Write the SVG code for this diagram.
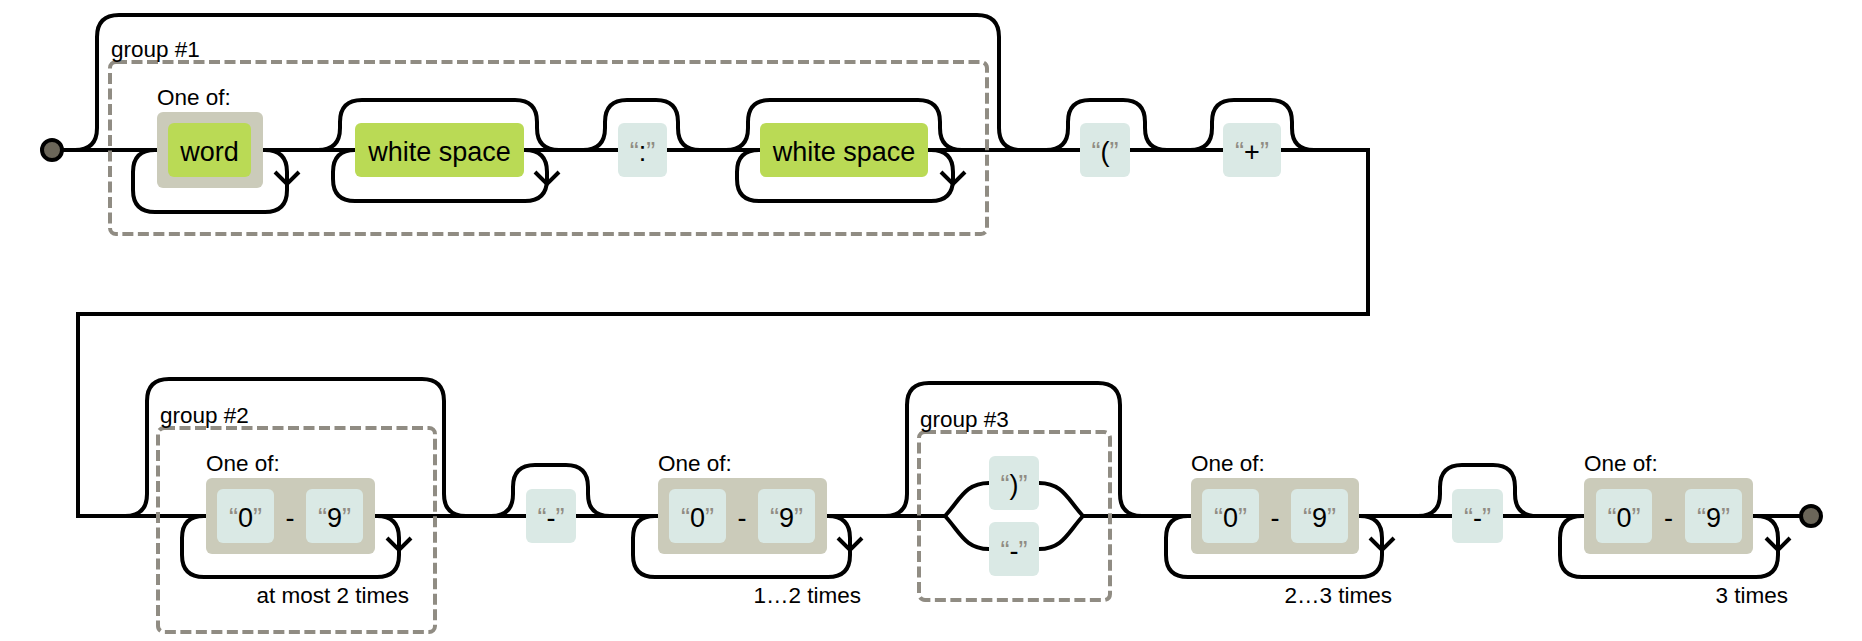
<svg xmlns="http://www.w3.org/2000/svg" width="1862" height="641" viewBox="0 0 1862 641">
<style>
.bg{fill:#ffffff}
.conn path{fill:none;stroke:#000;stroke-width:4}
.grp{fill:none;stroke:#908c83;stroke-width:4;stroke-dasharray:11 4.5}
.esc{fill:#bada55}
.lit{fill:#dae9e5}
.cs{fill:#cbcbba}
.t{font-family:"Liberation Sans",Arial,sans-serif;font-size:27px;fill:#000;text-anchor:middle}
.q{fill:#908c83}
.lb{font-family:"Liberation Sans",Arial,sans-serif;font-size:22.5px;fill:#000}
.end{text-anchor:end}
.pt{fill:#6b6659;stroke:#000;stroke-width:4}
</style>
<rect class="bg" x="0" y="0" width="1862" height="641"/>

<g id="connectors" class="conn">
  <path d="M62,150 H1330"/>
  <path d="M1330,150 H1368 V314 H78 V516 H945"/>
  <path d="M1083,516 H1800"/>
  <!-- group #1 bypass -->
  <path d="M75,150 q22,0 22,-22 V37 q0,-22 22,-22 H977 q22,0 22,22 V128 q0,22 22,22"/>
  <!-- word loop -->
  <path d="M263,150 H265 q22,0 22,22 V190 q0,22 -22,22 H155 q-22,0 -22,-22 V172 q0,-22 22,-22 H157"/>
  <path d="M275,172 L287,184 L299,172"/>
  <!-- white space 1 skip + loop -->
  <path d="M318,150 q22,0 22,-22 V122 q0,-22 22,-22 H515 q22,0 22,22 V128 q0,22 22,22"/>
  <path d="M524,150 H525 q22,0 22,22 V179 q0,22 -22,22 H355 q-22,0 -22,-22 V172 q0,-22 22,-22"/>
  <path d="M535,172 L547,184 L559,172"/>
  <!-- ":" skip -->
  <path d="M583,150 q22,0 22,-22 V122 q0,-22 22,-22 H656 q22,0 22,22 V128 q0,22 22,22"/>
  <!-- white space 2 skip + loop -->
  <path d="M726,150 q22,0 22,-22 V122 q0,-22 22,-22 H918 q22,0 22,22 V128 q0,22 22,22"/>
  <path d="M928,150 H931 q22,0 22,22 V179 q0,22 -22,22 H759 q-22,0 -22,-22 V172 q0,-22 22,-22 H760"/>
  <path d="M941,172 L953,184 L965,172"/>
  <!-- "(" skip -->
  <path d="M1046,150 q22,0 22,-22 V122 q0,-22 22,-22 H1123 q22,0 22,22 V128 q0,22 22,22"/>
  <!-- "+" skip -->
  <path d="M1190,150 q22,0 22,-22 V122 q0,-22 22,-22 H1270 q22,0 22,22 V128 q0,22 22,22"/>

  <!-- group #2 bypass -->
  <path d="M125,516 q22,0 22,-22 V401 q0,-22 22,-22 H422 q22,0 22,22 V494 q0,22 22,22"/>
  <path d="M375,516 H377 q22,0 22,22 V555 q0,22 -22,22 H204 q-22,0 -22,-22 V538 q0,-22 22,-22 H206"/>
  <path d="M387,538 L399,550 L411,538"/>
  <!-- "-" skip 1 -->
  <path d="M491,516 q22,0 22,-22 V487 q0,-22 22,-22 H566 q22,0 22,22 V494 q0,22 22,22"/>
  <!-- loop 1..2 -->
  <path d="M827,516 H828 q22,0 22,22 V555 q0,22 -22,22 H655 q-22,0 -22,-22 V538 q0,-22 22,-22 H658"/>
  <path d="M838,538 L850,550 L862,538"/>
  <!-- group #3 bypass -->
  <path d="M885,516 q22,0 22,-22 V405 q0,-22 22,-22 H1098 q22,0 22,22 V494 q0,22 22,22"/>
  <!-- choice -->
  <path d="M935,516 H945 C960,500 965,483 989,483"/>
  <path d="M945,516 C960,532 965,549 989,549"/>
  <path d="M1039,483 C1063,483 1068,500 1083,516"/>
  <path d="M1039,549 C1063,549 1068,532 1083,516"/>
  <!-- loop 2..3 -->
  <path d="M1359,516 H1360 q22,0 22,22 V555 q0,22 -22,22 H1188 q-22,0 -22,-22 V538 q0,-22 22,-22 H1191"/>
  <path d="M1370,538 L1382,550 L1394,538"/>
  <!-- "-" skip 2 -->
  <path d="M1418,516 q22,0 22,-22 V487 q0,-22 22,-22 H1493 q22,0 22,22 V494 q0,22 22,22"/>
  <!-- loop 3 times -->
  <path d="M1753,516 H1756 q22,0 22,22 V555 q0,22 -22,22 H1582 q-22,0 -22,-22 V538 q0,-22 22,-22 H1584"/>
  <path d="M1766,538 L1778,550 L1790,538"/>
</g>

<g id="start"><circle class="pt" cx="52" cy="150" r="10"/></g>
<g id="end"><circle class="pt" cx="1811" cy="516" r="10"/></g>

<g id="group1">
  <rect class="grp" x="110" y="62" width="877" height="172" rx="6"/>
  <text class="lb" x="111" y="57">group #1</text>
</g>
<g id="word">
  <text class="lb" x="157" y="105">One of:</text>
  <rect class="cs" x="157" y="112" width="106" height="76" rx="6"/>
  <rect class="esc" x="168" y="123" width="83" height="54" rx="6"/>
  <text class="t" x="209.5" y="161">word</text>
</g>
<g id="ws1">
  <rect class="esc" x="355" y="123" width="169" height="54" rx="6"/>
  <text class="t" x="439.5" y="161">white space</text>
</g>
<g id="colon">
  <rect class="lit" x="618" y="123" width="49" height="54" rx="6"/>
  <text class="t" x="642.5" y="161"><tspan class="q">“</tspan>:<tspan class="q">”</tspan></text>
</g>
<g id="ws2">
  <rect class="esc" x="760" y="123" width="168" height="54" rx="6"/>
  <text class="t" x="844" y="161">white space</text>
</g>
<g id="lparen">
  <rect class="lit" x="1080" y="123" width="50" height="54" rx="6"/>
  <text class="t" x="1105" y="161"><tspan class="q">“</tspan>(<tspan class="q">”</tspan></text>
</g>
<g id="plus">
  <rect class="lit" x="1223" y="123" width="58" height="54" rx="6"/>
  <text class="t" x="1252" y="161"><tspan class="q">“</tspan>+<tspan class="q">”</tspan></text>
</g>

<g id="group2">
  <rect class="grp" x="158" y="428" width="277" height="204" rx="6"/>
  <text class="lb" x="160" y="423">group #2</text>
</g>
<g id="digits1">
  <text class="lb" x="206" y="471">One of:</text>
  <rect class="cs" x="206" y="478" width="169" height="76" rx="6"/>
  <rect class="lit" x="217" y="489" width="57" height="54" rx="6"/>
  <text class="t" x="245.5" y="527"><tspan class="q">“</tspan>0<tspan class="q">”</tspan></text>
  <text class="t" x="290" y="527">-</text>
  <rect class="lit" x="306" y="489" width="57" height="54" rx="6"/>
  <text class="t" x="334.5" y="527"><tspan class="q">“</tspan>9<tspan class="q">”</tspan></text>
  <text class="lb end" x="409" y="603">at most 2 times</text>
</g>
<g id="dash1">
  <rect class="lit" x="526" y="489" width="50" height="54" rx="6"/>
  <text class="t" x="551" y="527"><tspan class="q">“</tspan>-<tspan class="q">”</tspan></text>
</g>
<g id="digits2">
  <text class="lb" x="658" y="471">One of:</text>
  <rect class="cs" x="658" y="478" width="169" height="76" rx="6"/>
  <rect class="lit" x="669" y="489" width="57" height="54" rx="6"/>
  <text class="t" x="697.5" y="527"><tspan class="q">“</tspan>0<tspan class="q">”</tspan></text>
  <text class="t" x="742" y="527">-</text>
  <rect class="lit" x="758" y="489" width="57" height="54" rx="6"/>
  <text class="t" x="786.5" y="527"><tspan class="q">“</tspan>9<tspan class="q">”</tspan></text>
  <text class="lb end" x="861" y="603">1…2 times</text>
</g>
<g id="group3">
  <rect class="grp" x="919" y="432" width="191" height="168" rx="6"/>
  <text class="lb" x="920" y="427">group #3</text>
</g>
<g id="rparen">
  <rect class="lit" x="989" y="456" width="50" height="54" rx="6"/>
  <text class="t" x="1014" y="494"><tspan class="q">“</tspan>)<tspan class="q">”</tspan></text>
</g>
<g id="dash2">
  <rect class="lit" x="989" y="522" width="50" height="54" rx="6"/>
  <text class="t" x="1014" y="560"><tspan class="q">“</tspan>-<tspan class="q">”</tspan></text>
</g>
<g id="digits3">
  <text class="lb" x="1191" y="471">One of:</text>
  <rect class="cs" x="1191" y="478" width="168" height="76" rx="6"/>
  <rect class="lit" x="1202" y="489" width="57" height="54" rx="6"/>
  <text class="t" x="1230.5" y="527"><tspan class="q">“</tspan>0<tspan class="q">”</tspan></text>
  <text class="t" x="1275" y="527">-</text>
  <rect class="lit" x="1291" y="489" width="57" height="54" rx="6"/>
  <text class="t" x="1319.5" y="527"><tspan class="q">“</tspan>9<tspan class="q">”</tspan></text>
  <text class="lb end" x="1392" y="603">2…3 times</text>
</g>
<g id="dash3">
  <rect class="lit" x="1452" y="489" width="51" height="54" rx="6"/>
  <text class="t" x="1477.5" y="527"><tspan class="q">“</tspan>-<tspan class="q">”</tspan></text>
</g>
<g id="digits4">
  <text class="lb" x="1584" y="471">One of:</text>
  <rect class="cs" x="1584" y="478" width="169" height="76" rx="6"/>
  <rect class="lit" x="1596" y="489" width="56" height="54" rx="6"/>
  <text class="t" x="1624" y="527"><tspan class="q">“</tspan>0<tspan class="q">”</tspan></text>
  <text class="t" x="1668.5" y="527">-</text>
  <rect class="lit" x="1685" y="489" width="57" height="54" rx="6"/>
  <text class="t" x="1713.5" y="527"><tspan class="q">“</tspan>9<tspan class="q">”</tspan></text>
  <text class="lb end" x="1788" y="603">3 times</text>
</g>
</svg>
